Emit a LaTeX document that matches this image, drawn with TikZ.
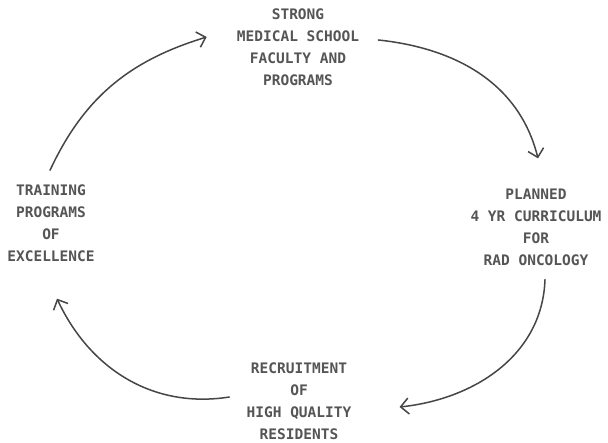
\documentclass[tikz,border=0pt]{standalone}
\usepackage{fontspec}
\usepackage{xcolor}
\usepackage{tikz}
\usetikzlibrary{arrows.meta,positioning,calc}
\newfontfamily\typerfont{DejaVu Sans Mono}
\definecolor{inkgray}{RGB}{70,70,70}
\definecolor{typegray}{RGB}{85,85,85}
\tikzset{
    typed/.style={align=center, inner sep=0pt, text=typegray,
        font=\typerfont\bfseries\fontsize{14.5}{22}\selectfont},
    cyclearrow/.style={-{Straight Barb[length=8pt,width=16pt,line width=1.5pt]},
        line width=1.5pt, inkgray, line cap=round}
}

\begin{document}
\begin{tikzpicture}[x=1pt, y=1pt]
    \useasboundingbox (0,0) rectangle (608,443);

    % The four stages
    \node[typed] (strong) at (298,396) {STRONG\\MEDICAL SCHOOL\\FACULTY AND\\PROGRAMS};
    \node[typed] (plan) at (536,216) {PLANNED\\4 YR CURRICULUM\\FOR\\RAD ONCOLOGY};
    \node[typed] (recruit) at (299,42) {RECRUITMENT\\OF\\HIGH QUALITY\\RESIDENTS};
    \node[typed] (train) at (51,220) {TRAINING\\PROGRAMS\\OF\\EXCELLENCE};

    % Cycle arrows
    \draw[cyclearrow] ([shift={(-1,14)}]train.north) to[out=65, in=197]
        ([shift={(-30,10)}]strong.west);
    \draw[cyclearrow] ([shift={(19,7)}]strong.east) to[out=-6, in=104]
        ([shift={(2,30)}]plan.north);
    \draw[cyclearrow] ([shift={(9,-14)}]plan.south) to[out=-92, in=6]
        ([shift={(48,-6)}]recruit.east);
    \draw[cyclearrow] ([shift={(-17,4)}]recruit.west) to[out=189, in=-65]
        ([shift={(6,-37)}]train.south);
\end{tikzpicture}
\end{document}
